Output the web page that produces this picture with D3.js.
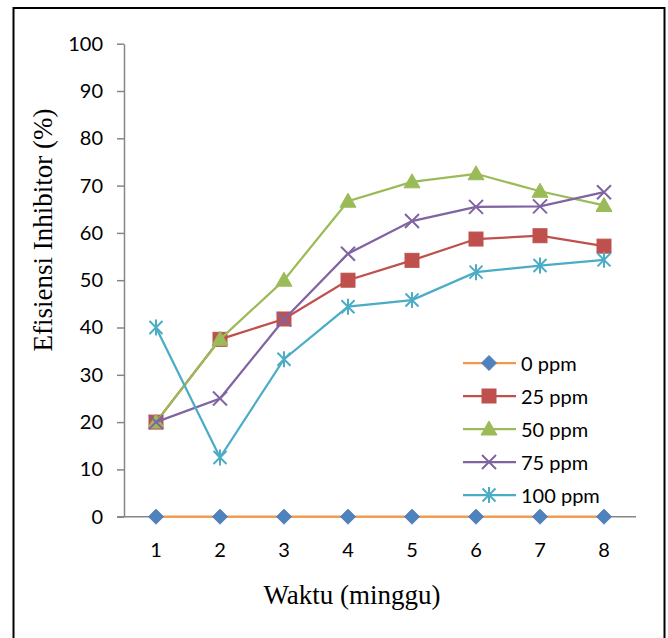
<!DOCTYPE html>
<html>
<head>
<meta charset="utf-8">
<script src="https://cdn.jsdelivr.net/npm/d3@7/dist/d3.min.js"></script>
<style>
  body { margin: 0; background: #fff; }
  svg { display: block; }
</style>
</head>
<body>
<svg id="chart" width="668" height="638"></svg>
<script>
var weeks = [1, 2, 3, 4, 5, 6, 7, 8];
var yTicks = [0, 10, 20, 30, 40, 50, 60, 70, 80, 90, 100];
var seriesNames = ['0 ppm', '25 ppm', '50 ppm', '75 ppm', '100 ppm'];
var ppm0 = [0, 0, 0, 0, 0, 0, 0, 0];
var ppm25 = [20, 37.5, 41.8, 50, 54.2, 58.7, 59.4, 57.2];
var ppm50 = [20, 37.5, 50, 66.7, 70.8, 72.5, 68.8, 65.8];
var ppm75 = [20, 25, 41.7, 55.6, 62.5, 65.5, 65.6, 68.6];
var ppm100 = [40, 12.5, 33.3, 44.4, 45.8, 51.7, 53.1, 54.3];

var series = [
    { name: seriesNames[0], values: ppm0, line: '#F79646', marker: '#4F81BD', shape: 'diamond' },
    { name: seriesNames[1], values: ppm25, line: '#C0504D', marker: '#C0504D', shape: 'square' },
    { name: seriesNames[2], values: ppm50, line: '#9BBB59', marker: '#9BBB59', shape: 'triangle' },
    { name: seriesNames[3], values: ppm75, line: '#8064A2', marker: '#8064A2', shape: 'x' },
    { name: seriesNames[4], values: ppm100, line: '#4BACC6', marker: '#4BACC6', shape: 'star' }
];

var svg = d3.select('#chart');
var tickFont = 'Lato, "Open Sans", sans-serif';
var titleFont = '"Liberation Serif", "Times New Roman", serif';

// outer frame
svg.append('rect')
    .attr('x', 13.5).attr('y', 8)
    .attr('width', 651).attr('height', 640)
    .attr('fill', 'none')
    .attr('stroke', '#000')
    .attr('stroke-width', 2);

var plotLeft = 124, plotRight = 636, plotTop = 43.7, plotBottom = 516.7;

var x = d3.scaleBand().domain(weeks).range([plotLeft, plotRight]);
var y = d3.scaleLinear().domain([0, 100]).range([plotBottom, plotTop]);

// y axis
var yAxis = svg.append('g')
    .attr('transform', 'translate(' + plotLeft + ',0)')
    .call(d3.axisLeft(y).tickValues(yTicks).tickSize(7).tickSizeOuter(0).tickPadding(14));
yAxis.select('.domain').attr('stroke', '#868686').attr('stroke-width', 1.5);
yAxis.selectAll('.tick line').attr('stroke', '#868686').attr('stroke-width', 1.5);
yAxis.selectAll('.tick text')
    .attr('font-family', tickFont).attr('font-size', 20).attr('fill', '#000');

// x axis
var xAxis = svg.append('g')
    .attr('transform', 'translate(0,' + plotBottom + ')')
    .call(d3.axisBottom(x).tickSize(0).tickPadding(26));
xAxis.select('.domain')
    .attr('d', 'M' + (plotLeft - 7) + ',0H' + plotRight)
    .attr('stroke', '#868686').attr('stroke-width', 1.5);
xAxis.selectAll('.tick text')
    .attr('font-family', tickFont).attr('font-size', 20).attr('fill', '#000');

// titles
svg.append('text')
    .attr('x', 352).attr('y', 604)
    .attr('text-anchor', 'middle')
    .attr('font-family', titleFont).attr('font-size', 27)
    .text('Waktu (minggu)');
svg.append('text')
    .attr('transform', 'translate(52,230) rotate(-90)')
    .attr('text-anchor', 'middle')
    .attr('font-family', titleFont).attr('font-size', 27)
    .text('Efisiensi Inhibitor (%)');

function drawMarker(g, s, cx, cy) {
    if (s.shape === 'diamond') {
        g.append('path')
            .attr('d', 'M' + cx + ',' + (cy - 7.5) + 'L' + (cx + 7.5) + ',' + cy + 'L' + cx + ',' + (cy + 7.5) + 'L' + (cx - 7.5) + ',' + cy + 'Z')
            .attr('fill', s.marker).attr('stroke', s.marker).attr('stroke-width', 1);
    } else if (s.shape === 'square') {
        g.append('rect')
            .attr('x', cx - 7).attr('y', cy - 7).attr('width', 14).attr('height', 14)
            .attr('fill', s.marker).attr('stroke', s.marker).attr('stroke-width', 1);
    } else if (s.shape === 'triangle') {
        g.append('path')
            .attr('d', 'M' + cx + ',' + (cy - 8) + 'L' + (cx + 8) + ',' + (cy + 6) + 'L' + (cx - 8) + ',' + (cy + 6) + 'Z')
            .attr('fill', s.marker).attr('stroke', s.marker).attr('stroke-width', 1);
    } else if (s.shape === 'x') {
        g.append('path')
            .attr('d', 'M' + (cx - 7) + ',' + (cy - 7) + 'L' + (cx + 7) + ',' + (cy + 7) + 'M' + (cx + 7) + ',' + (cy - 7) + 'L' + (cx - 7) + ',' + (cy + 7))
            .attr('fill', 'none').attr('stroke', s.marker).attr('stroke-width', 2);
    } else {
        g.append('path')
            .attr('d', 'M' + (cx - 6.5) + ',' + (cy - 6.5) + 'L' + (cx + 6.5) + ',' + (cy + 6.5) + 'M' + (cx + 6.5) + ',' + (cy - 6.5) + 'L' + (cx - 6.5) + ',' + (cy + 6.5) + 'M' + cx + ',' + (cy - 8) + 'L' + cx + ',' + (cy + 8))
            .attr('fill', 'none').attr('stroke', s.marker).attr('stroke-width', 2);
    }
}

var line = d3.line()
    .x(function (d, i) { return x(weeks[i]) + x.bandwidth() / 2; })
    .y(function (d) { return y(d); });

series.forEach(function (s) {
    var g = svg.append('g').attr('class', 'series');
    g.append('path')
        .attr('d', line(s.values))
        .attr('fill', 'none')
        .attr('stroke', s.line)
        .attr('stroke-width', 2.25);
    s.values.forEach(function (v, i) {
        drawMarker(g, s, x(weeks[i]) + x.bandwidth() / 2, y(v));
    });
});

// legend
var legend = svg.append('g').attr('class', 'legend');
series.forEach(function (s, i) {
    var ly = 363 + i * 33;
    legend.append('line')
        .attr('x1', 463).attr('x2', 516).attr('y1', ly).attr('y2', ly)
        .attr('stroke', s.line).attr('stroke-width', 2.25);
    drawMarker(legend, s, 489, ly);
    legend.append('text')
        .attr('x', 521).attr('y', ly)
        .attr('dominant-baseline', 'central')
        .attr('font-family', tickFont).attr('font-size', 20)
        .text(s.name);
});
</script>
</body>
</html>
